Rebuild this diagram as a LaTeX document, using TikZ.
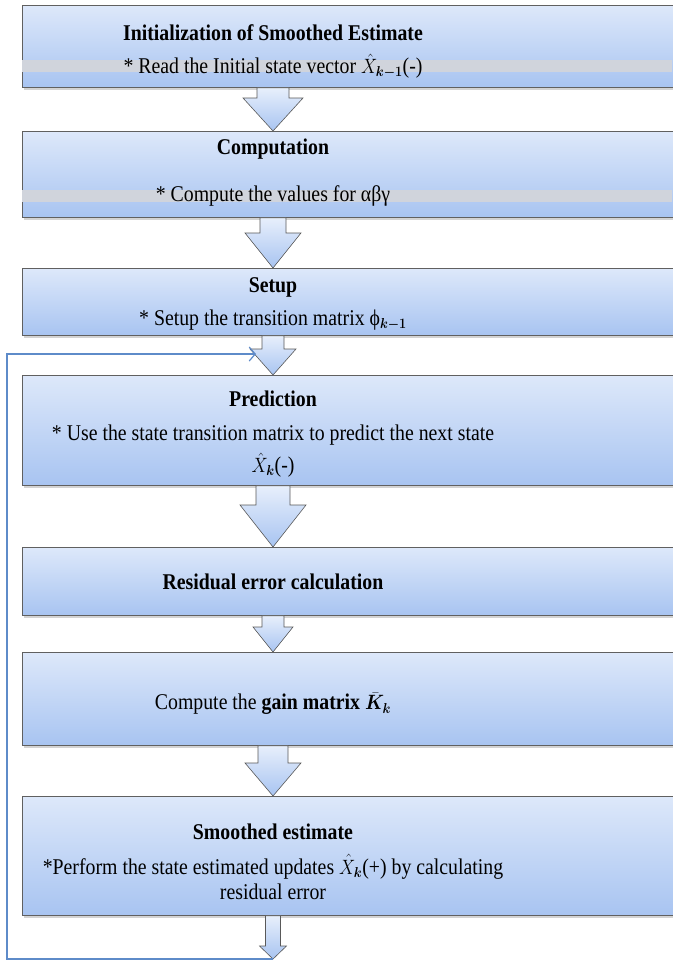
\documentclass[tikz,border=0pt]{standalone}
\usepackage{amsmath}
\usepackage{bm}
\usepackage{graphicx}
\usepackage{fontspec}
\setmainfont{Liberation Serif}
\usetikzlibrary{arrows.meta,calc,shadows}

\definecolor{boxtop}{HTML}{DDE8FA}
\definecolor{boxbot}{HTML}{A8C4F1}
\definecolor{loopblue}{HTML}{5E8BC9}
\definecolor{bandgray}{HTML}{D0D4DC}

\newcommand{\sq}[1]{\scalebox{0.88}[1]{#1}}

\tikzset{
  stagebox/.style={draw=gray!75!black, line width=0.8pt, top color=boxtop, bottom color=boxbot,
    anchor=north west, minimum width=690pt, inner sep=0pt,
    drop shadow={opacity=0.35, shadow xshift=1.5pt, shadow yshift=-2.5pt}},
  fatarrow/.style={draw=gray!70!black, line width=0.6pt, top color=boxtop!70!white, bottom color=boxbot},
  titletext/.style={font=\bfseries\fontsize{22.5}{25}\selectfont, inner sep=0pt},
  bodytext/.style={font=\fontsize{22.5}{25}\selectfont, inner sep=0pt, align=center},
  loopline/.style={draw=loopblue, line width=1.2pt, -{Straight Barb[length=6pt,width=14pt]}}
}

% top, tip, shaft half width, head half width, head length
\newcommand{\blockarr}[5]{%
  \draw[fatarrow] let \p1=(#1), \p2=(#2) in
    (\x1-#3pt,\y1) -- (\x1-#3pt,\y2+#5pt) -- (\x1-#4pt,\y2+#5pt) -- (\x1,\y2)
    -- (\x1+#4pt,\y2+#5pt) -- (\x1+#3pt,\y2+#5pt) -- (\x1+#3pt,\y1) -- cycle;}

\begin{document}
\begin{tikzpicture}[x=1pt,y=-1pt]
  \useasboundingbox (0,0) rectangle (672,961);

  \node[stagebox, minimum height=82pt] (init) at (22,5) {};
  \node[stagebox, minimum height=86pt] (comp) at (22,131) {};
  \node[stagebox, minimum height=67pt] (setup) at (22,268) {};
  \node[stagebox, minimum height=110pt] (pred) at (22,375) {};
  \node[stagebox, minimum height=68pt] (resid) at (22,547) {};
  \node[stagebox, minimum height=93pt] (gain) at (22,652) {};
  \node[stagebox, minimum height=119pt] (smooth) at (22,796) {};

  \fill[bandgray] (22,60) rectangle (672,72);
  \fill[bandgray] (22,190) rectangle (672,202);

  \node[titletext] (initT) at (273,33) {\sq{Initialization of Smoothed Estimate}};
  \node[bodytext] (initB) at (273,66) {\sq{* Read the Initial state vector $\hat{X}_{\bm{k-1}}$(-)}};
  \node[titletext] (compT) at (273,149) {\sq{Computation}};
  \node[bodytext] (compB) at (273,196) {\sq{* Compute the values for αβγ}};
  \node[titletext] (setupT) at (273,287) {\sq{Setup}};
  \node[bodytext] (setupB) at (273,320) {\sq{* Setup the transition matrix ϕ$_{\bm{k-1}}$}};
  \node[titletext] (predT) at (273,399) {\sq{Prediction}};
  \node[bodytext, font=\fontsize{22.5}{32}\selectfont] (predB) at (273,451)
    {\sq{* Use the state transition matrix to predict the next state}\\ \sq{$\hat{X}_{\bm{k}}$(-)}};
  \node[titletext] (residT) at (273,582) {\sq{Residual error calculation}};
  \node[bodytext] (gainT) at (273,704) {\sq{Compute the \textbf{gain matrix} $\bar{\bm{K}}_{\bm{k}}$}};
  \node[titletext] (smoothT) at (273,832) {\sq{Smoothed estimate}};
  \node[bodytext] (smoothB) at (273,877)
    {\sq{*Perform the state estimated updates $\hat{X}_{\bm{k}}$(+) by calculating}\\ \sq{residual error}};

  \blockarr{initT |- init.south}{compT |- comp.north}{16}{30}{33}
  \blockarr{compT |- comp.south}{setupT |- setup.north}{13}{28}{35}
  \blockarr{setupT |- setup.south}{predT |- pred.north}{11}{23}{26}
  \blockarr{predT |- pred.south}{residT |- resid.north}{17}{33}{42}
  \blockarr{residT |- resid.south}{gainT |- gain.north}{11}{20}{25}
  \blockarr{gainT |- gain.south}{smoothT |- smooth.north}{15}{28}{33}
  \coordinate (out) at (273,959);
  \blockarr{smoothT |- smooth.south}{out}{7.5}{13.5}{13}

  \coordinate (loopend) at (256,354);
  \draw[loopline] (out) -| (7,354) -- (loopend);
\end{tikzpicture}
\end{document}
